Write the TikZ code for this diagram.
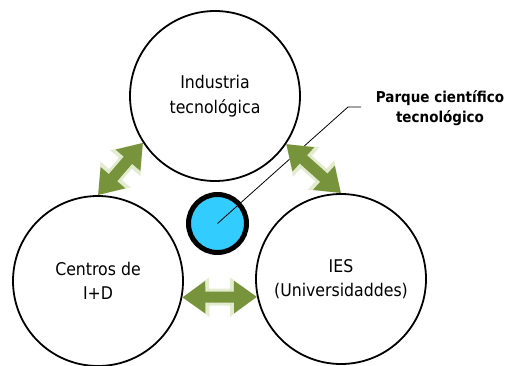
\documentclass[tikz,border=0pt]{standalone}
\usepackage{fontspec}
\setmainfont{DejaVu Sans Condensed}
\usetikzlibrary{arrows.meta}
\definecolor{olive}{HTML}{77933C}
\definecolor{glow}{HTML}{D7E4BD}
\definecolor{sky}{HTML}{33CCFF}
\tikzset{
  bigcircle/.style={circle,draw=black,line width=1.8pt,minimum size=170pt,inner sep=0pt,align=center,font=\fontsize{17.5}{24.5}\selectfont},
  glowarrow/.style={draw=glow,line width=17pt,opacity=0.7,{Triangle[length=27pt,width=38pt]}-{Triangle[length=27pt,width=38pt]}},
  greenarrow/.style={draw=olive,line width=11pt,{Triangle[length=23pt,width=31pt]}-{Triangle[length=23pt,width=31pt]}},
}
\begin{document}
\begin{tikzpicture}[x=1pt,y=1pt]
\useasboundingbox (0,0) rectangle (510,365);
\node[bigcircle] (ind) at (215,269) {Industria\\tecnológica};
\node[bigcircle] (cen) at (98,84) {Centros de\\I+D};
\node[bigcircle] (ies) at (341,86) {IES\\(Universidaddes)};
\node[circle,draw=black,line width=5pt,fill=sky,minimum size=58pt,inner sep=0pt] (pq) at (217.5,141.5) {};
\coordinate (bend) at (348,258);
\coordinate (lend) at (361,258);
\draw[line width=0.8pt] (pq.center) -- (bend) -- (lend);
\node[font=\bfseries\fontsize{15}{20}\selectfont,align=center] (lab) at (440,257) {Parque científico\\tecnológico};
\draw[glowarrow] (ind.213) -- (cen.90);
\draw[greenarrow] (ind.213) -- (cen.90);
\draw[glowarrow] (ind.326) -- (ies.90);
\draw[greenarrow] (ind.326) -- (ies.90);
\draw[glowarrow] (cen.349) -- (ies.192);
\draw[greenarrow] (cen.349) -- (ies.192);
\end{tikzpicture}
\end{document}
